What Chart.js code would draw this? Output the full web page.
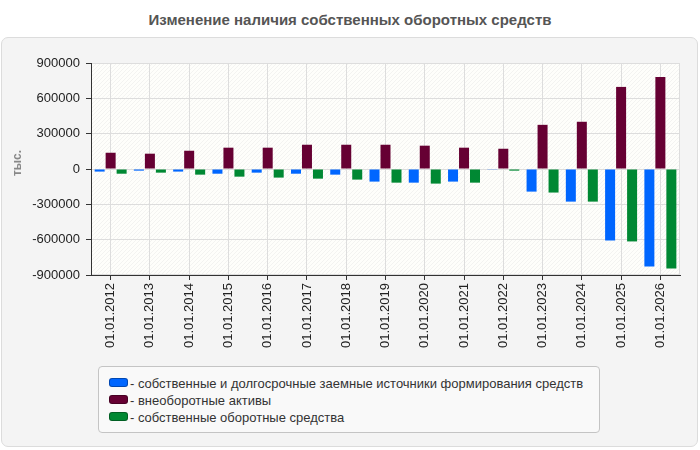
<!DOCTYPE html>
<html><head><meta charset="utf-8">
<script src="https://cdn.jsdelivr.net/npm/chart.js@4.4.1/dist/chart.umd.min.js"></script>
<style>
html,body{margin:0;padding:0;background:#fff;width:700px;height:450px;overflow:hidden;font-family:"Liberation Sans",Arial,sans-serif;}
#panel{position:absolute;left:1px;top:37px;width:695px;height:408px;background:#f4f4f4;border:1px solid #dcdcdc;border-radius:7px;}
#title{position:absolute;left:0;top:11px;width:700px;text-align:center;font-weight:bold;font-size:15px;color:#555;}
#c{position:absolute;left:0;top:0;}
#legend{position:absolute;left:98px;top:366px;width:500px;height:65px;background:#f9f9f9;border:1px solid #c4c4c4;border-radius:4px;}
.item{position:absolute;left:10px;font-size:13px;color:#333;white-space:nowrap;line-height:15px;}
.sw{display:inline-block;width:17px;height:7px;border-radius:3px;margin-right:2px;vertical-align:1px;border:1px solid rgba(0,0,0,0.3);}
</style></head>
<body>
<div id="panel"></div>
<div id="title">Изменение наличия собственных оборотных средств</div>
<canvas id="c" width="700" height="450"></canvas>
<div id="legend"></div>
<script>
const categories = ["01.01.2012","01.01.2013","01.01.2014","01.01.2015","01.01.2016","01.01.2017","01.01.2018","01.01.2019","01.01.2020","01.01.2021","01.01.2022","01.01.2023","01.01.2024","01.01.2025","01.01.2026"];
const seriesNames = ["собственные и долгосрочные заемные источники формирования средств","внеоборотные активы","собственные оборотные средства"];
const sourcesValues = [-22000,-14000,-22000,-40000,-31000,-40000,-48000,-107000,-116000,-107000,-6000,-192000,-277000,-607000,-827000];
const nonCurrentValues = [138000,130000,155000,181000,181000,206000,206000,206000,198000,181000,172000,375000,401000,697000,782000];
const workingCapitalValues = [-40000,-31000,-48000,-65000,-73000,-82000,-90000,-116000,-124000,-116000,-14000,-200000,-277000,-615000,-844000];
const yTicks = [900000,600000,300000,0,-300000,-600000,-900000];
const yUnit = "тыс.";
const colors = ["#0066ff","#660033","#008833"];

const lg = document.getElementById('legend');
seriesNames.forEach((n,i)=>{
  const d=document.createElement('div');d.className='item';d.style.top=(9+i*17)+'px';
  d.innerHTML='<span class="sw" style="background:'+colors[i]+'"></span>- '+n;
  lg.appendChild(d);
});

function hatch(){
  const p=document.createElement('canvas');p.width=4;p.height=4;
  const g=p.getContext('2d');
  g.fillStyle='#fefefb';g.fillRect(0,0,4,4);
  g.strokeStyle='#f3f3f1';g.lineWidth=1;
  g.beginPath();g.moveTo(0,4);g.lineTo(4,0);g.moveTo(-2,2);g.lineTo(2,-2);g.moveTo(2,6);g.lineTo(6,2);g.stroke();
  return p;
}
const bgPlugin={id:'bg',beforeDraw(chart){
  const {ctx,chartArea:a}=chart;
  ctx.save();
  ctx.fillStyle=ctx.createPattern(hatch(),'repeat');
  ctx.fillRect(a.left,a.top,a.right-a.left,a.bottom-a.top);
  ctx.strokeStyle='#dddddd';ctx.lineWidth=1;
  ctx.strokeRect(a.left+0.5,a.top+0.5,a.right-a.left-1,a.bottom-a.top-1);
  ctx.restore();
},afterDraw(chart){
  const {ctx,chartArea:a}=chart;
  ctx.save();
  ctx.translate(18,(a.top+a.bottom)/2-6);
  ctx.rotate(-Math.PI/2);
  ctx.font='bold 12px "Liberation Sans", Arial, sans-serif';
  ctx.fillStyle='#888';ctx.textAlign='center';ctx.textBaseline='middle';
  ctx.fillText(yUnit,0,0);
  ctx.restore();
}};

new Chart(document.getElementById('c'),{
  type:'bar',
  data:{labels:categories,datasets:[
    {label:seriesNames[0],data:sourcesValues,backgroundColor:colors[0]},
    {label:seriesNames[1],data:nonCurrentValues,backgroundColor:colors[1]},
    {label:seriesNames[2],data:workingCapitalValues,backgroundColor:colors[2]}
  ]},
  options:{
    responsive:false,animation:false,devicePixelRatio:1,
    categoryPercentage:0.84,barPercentage:0.91,
    layout:{padding:{left:8,top:63,right:20,bottom:75}},
    plugins:{legend:{display:false},tooltip:{enabled:false},title:{display:false}},
    scales:{
      x:{
        grid:{offset:false,color:'#dddddd',borderDash:[5,4],tickColor:'#333',tickLength:5,tickBorderDash:[]},
        border:{color:'#333',width:1},
        ticks:{minRotation:90,maxRotation:90,color:'#222',font:{size:13,family:'"Liberation Sans", Arial, sans-serif'},padding:3},
        afterFit(s){s.height=100;}
      },
      y:{
        min:-900000,max:900000,
        afterBuildTicks(s){s.ticks=yTicks.map(v=>({value:v}));},
        grid:{color:'#dddddd',borderDash:[5,4],tickColor:'#333',tickLength:5,tickBorderDash:[]},
        border:{color:'#333',width:1},
        ticks:{color:'#222',font:{size:13,family:'"Liberation Sans", Arial, sans-serif'},padding:6,callback:v=>String(v)},
        afterFit(s){s.width=83;}
      }
    }
  },
  plugins:[bgPlugin]
});
</script>
</body></html>
